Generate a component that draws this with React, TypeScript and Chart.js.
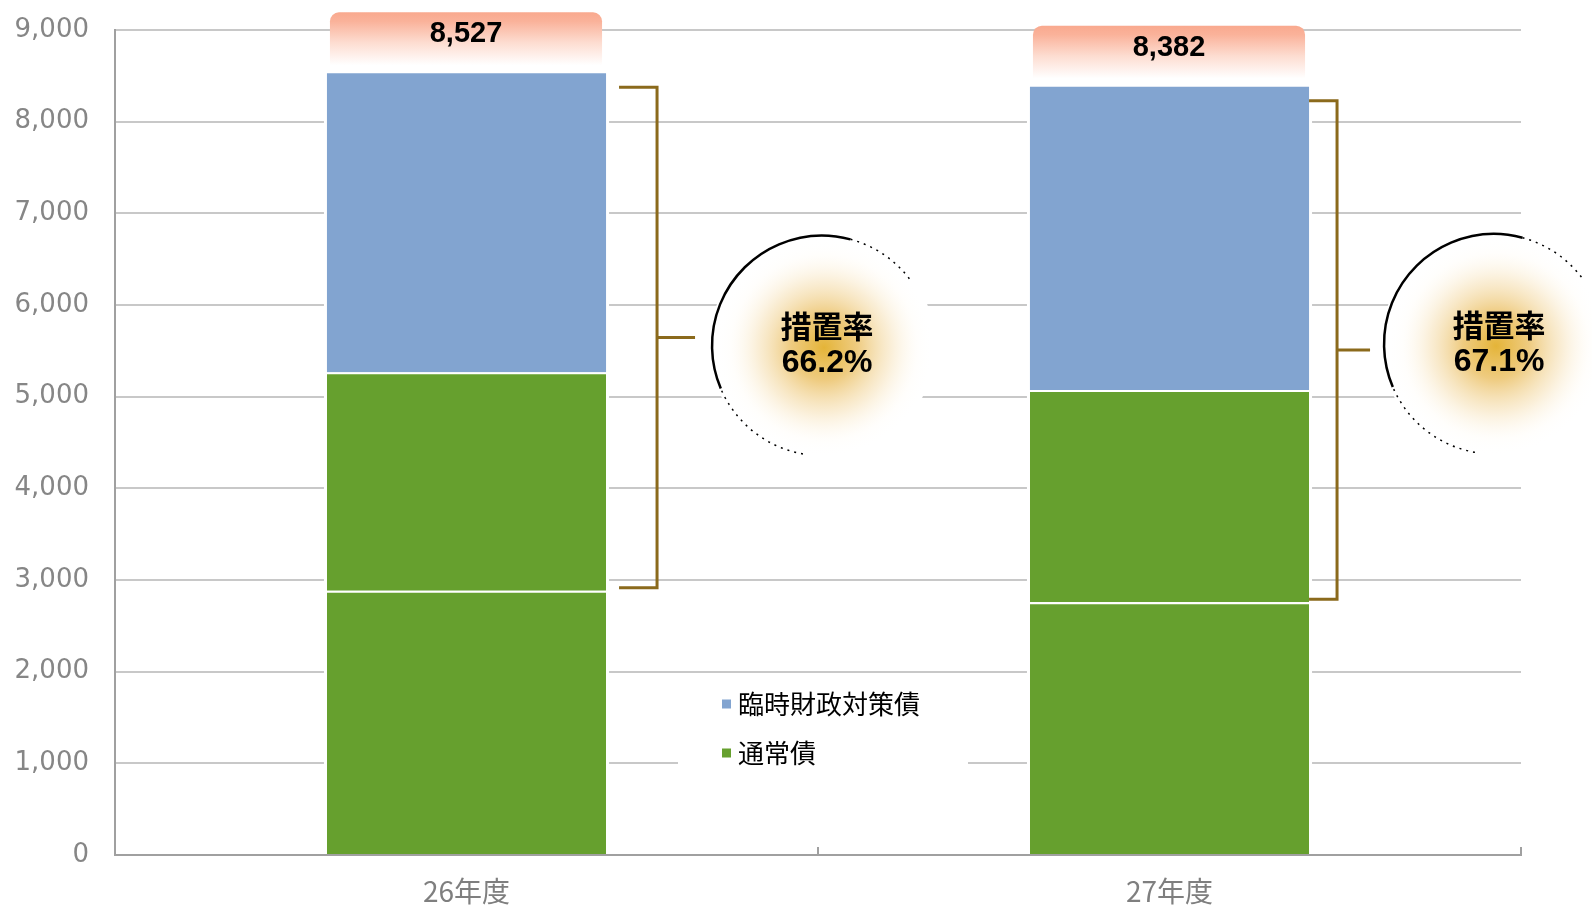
import React, { useEffect, useRef } from 'react';
import { Chart, registerables } from 'chart.js';

Chart.register(...registerables);

// ---- data ----
const categories = ['26年度', '27年度'];
const futsuBase = [2882, 2757]; // 通常債（下段）
const futsuSochi = [2384, 2315]; // 通常債（上段）
const rinji = [3261, 3310]; // 臨時財政対策債
const totals = [8527, 8382];
const sochiRates = ['66.2%', '67.1%'];
const legendItems = ['臨時財政対策債', '通常債'];
const yMin = 0;
const yMax = 9000;
const yStep = 1000;

// ---- styles ----
const BLUE = '#82A4D0';
const GREEN = '#66A02E';
const BRACKET = '#8B6A1C';
const GRID = '#C8C8C8';
const AXIS = '#A0A0A0';

// annotation layout per category (pixel offsets relative to the bars)
const annotLayout = [
  { start: 13, vx: 51, tick: 38, circleDx: 165, circleDy: 8 },
  { start: 0, vx: 28, tick: 33, circleDx: 157, circleDy: -6 },
];

const deg = (d: number) => (d * Math.PI) / 180;

function drawCallout(ctx: CanvasRenderingContext2D, cx: number, cy: number, r: number, rate: string) {
  ctx.save();
  ctx.beginPath();
  ctx.arc(cx, cy, r + 3, 0, Math.PI * 2);
  ctx.fillStyle = '#fff';
  ctx.fill();
  const g = ctx.createRadialGradient(cx + 2, cy + 2, 0, cx + 2, cy + 2, r);
  g.addColorStop(0, 'rgba(228,180,56,1)');
  g.addColorStop(0.3, 'rgba(236,196,110,0.88)');
  g.addColorStop(0.6, 'rgba(246,224,180,0.55)');
  g.addColorStop(0.85, 'rgba(255,250,240,0.2)');
  g.addColorStop(1, 'rgba(255,255,255,0)');
  ctx.beginPath();
  ctx.arc(cx, cy, r, 0, Math.PI * 2);
  ctx.fillStyle = g;
  ctx.fill();
  // black edge
  ctx.strokeStyle = '#000';
  ctx.lineWidth = 2.5;
  ctx.beginPath();
  ctx.arc(cx, cy, r, deg(157), deg(285), false);
  ctx.stroke();
  ctx.lineWidth = 1.5;
  ctx.setLineDash([2, 5]);
  ctx.beginPath();
  ctx.arc(cx, cy, r, deg(100), deg(157), false);
  ctx.stroke();
  ctx.beginPath();
  ctx.arc(cx, cy, r, deg(285), deg(325), false);
  ctx.stroke();
  ctx.setLineDash([]);
  // text
  ctx.fillStyle = '#000';
  ctx.textAlign = 'center';
  ctx.textBaseline = 'middle';
  ctx.font = "bold 31px 'Noto Sans CJK JP', sans-serif";
  ctx.fillText('措置率', cx + 5, cy - 19);
  ctx.font = "bold 32px 'Liberation Sans', Arial, sans-serif";
  ctx.fillText(rate, cx + 5, cy + 18);
  ctx.restore();
}

const annotPlugin = {
  id: 'annot',
  beforeDatasetsDraw(chart: any) {
    const ctx: CanvasRenderingContext2D = chart.ctx;
    const area = chart.chartArea;
    const topMeta = chart.getDatasetMeta(2);
    ctx.save();
    ctx.fillStyle = '#fff';
    topMeta.data.forEach((bar: any) => {
      ctx.fillRect(bar.x - bar.width / 2 - 3, bar.y, bar.width + 6, area.bottom - bar.y - 1);
    });
    // legend background
    ctx.fillRect(area.left + 563, area.bottom - 177, 290, 110);
    ctx.restore();
  },
  afterDatasetsDraw(chart: any) {
    const ctx: CanvasRenderingContext2D = chart.ctx;
    const area = chart.chartArea;
    const m0 = chart.getDatasetMeta(0);
    const m2 = chart.getDatasetMeta(2);
    ctx.save();
    // x axis line & inward ticks
    ctx.strokeStyle = AXIS;
    ctx.lineWidth = 2;
    ctx.beginPath();
    ctx.moveTo(area.left, area.bottom);
    ctx.lineTo(area.right, area.bottom);
    const mid = (area.left + area.right) / 2;
    ctx.moveTo(mid, area.bottom);
    ctx.lineTo(mid, area.bottom - 8);
    ctx.moveTo(area.right, area.bottom);
    ctx.lineTo(area.right, area.bottom - 8);
    ctx.stroke();

    m2.data.forEach((bar: any, i: number) => {
      const left = bar.x - bar.width / 2;
      const right = bar.x + bar.width / 2;
      const top = bar.y;
      // total label box
      const bx = left + 3;
      const bw = right - 4 - bx;
      const by = top - 61;
      const bh = 60;
      const g = ctx.createLinearGradient(0, by, 0, by + bh);
      g.addColorStop(0, '#F9A98E');
      g.addColorStop(0.15, '#FAB29A');
      g.addColorStop(0.5, '#FDDCD0');
      g.addColorStop(0.88, '#FFFFFF');
      g.addColorStop(1, '#FFFFFF');
      ctx.fillStyle = g;
      ctx.beginPath();
      (ctx as any).roundRect(bx, by, bw, bh, [9, 9, 0, 0]);
      ctx.fill();
      ctx.fillStyle = '#000';
      ctx.font = "bold 29px 'Liberation Sans', Arial, sans-serif";
      ctx.textAlign = 'center';
      ctx.textBaseline = 'middle';
      ctx.fillText(totals[i].toLocaleString('en-US'), bx + bw / 2, by + 22);

      // bracket
      const L = annotLayout[i];
      const splitY = m0.data[i].y;
      const bTop = top + 14;
      const bBot = splitY - 3;
      const vx = right + L.vx;
      const bMid = (bTop + bBot) / 2;
      ctx.strokeStyle = BRACKET;
      ctx.lineWidth = 3;
      ctx.lineCap = 'butt';
      ctx.lineJoin = 'miter';
      ctx.beginPath();
      ctx.moveTo(right + L.start, bTop);
      ctx.lineTo(vx, bTop);
      ctx.lineTo(vx, bBot);
      ctx.lineTo(right + L.start, bBot);
      ctx.moveTo(vx, bMid);
      ctx.lineTo(vx + L.tick, bMid);
      ctx.stroke();

      drawCallout(ctx, vx + L.circleDx, bMid + L.circleDy, 110, sochiRates[i]);
    });

    // legend
    const colors = [BLUE, GREEN];
    const lx = area.left + 607;
    const rows = [area.bottom - 151, area.bottom - 102];
    legendItems.forEach((t, i) => {
      ctx.fillStyle = colors[i];
      ctx.fillRect(lx, rows[i] - 4.5, 9, 9);
      ctx.fillStyle = '#000';
      ctx.font = "26px 'Noto Sans CJK JP', sans-serif";
      ctx.textAlign = 'left';
      ctx.textBaseline = 'middle';
      ctx.fillText(t, lx + 16, rows[i]);
    });
    ctx.restore();
  },
};

export default function App() {
  const ref = useRef<HTMLCanvasElement>(null);
  useEffect(() => {
    document.body.style.margin = '0';
    document.body.style.overflow = 'hidden';
    const canvas = ref.current!;
    const segBorder = { top: 2, right: 0, bottom: 0, left: 0 };
    const chart = new Chart(canvas, {
      type: 'bar',
      data: {
        labels: categories,
        datasets: [
          { label: '通常債', data: futsuBase, backgroundColor: GREEN, borderColor: '#fff', borderWidth: segBorder, borderSkipped: false },
          { label: '通常債', data: futsuSochi, backgroundColor: GREEN, borderColor: '#fff', borderWidth: segBorder, borderSkipped: false },
          { label: '臨時財政対策債', data: rinji, backgroundColor: BLUE, borderWidth: 0 },
        ],
      },
      options: {
        responsive: false,
        animation: false,
        devicePixelRatio: 1,
        layout: { padding: { top: 30, right: 71, left: 0, bottom: 0 } },
        datasets: { bar: { barPercentage: 1, categoryPercentage: 0.397 } },
        plugins: { legend: { display: false }, tooltip: { enabled: false } },
        scales: {
          x: {
            stacked: true,
            grid: { display: false, drawTicks: false },
            border: { color: AXIS, width: 2 },
            ticks: { color: '#7F7F7F', font: { family: "'Noto Sans CJK JP', sans-serif", size: 28 }, padding: 20 },
            afterFit: (s: any) => { s.height = 51; },
          },
          y: {
            stacked: true,
            min: yMin,
            max: yMax,
            ticks: {
              stepSize: yStep,
              color: '#868686',
              font: { family: "'DejaVu Sans', sans-serif", size: 26 },
              padding: 26,
              callback: (v: any) => Number(v).toLocaleString('en-US'),
            },
            grid: { color: GRID, lineWidth: 2, drawTicks: false },
            border: { color: AXIS, width: 2 },
            afterFit: (s: any) => { s.width = 115; s.paddingTop = 0; s.paddingBottom = 0; },
          },
        },
      } as any,
      plugins: [annotPlugin],
    });
    return () => chart.destroy();
  }, []);
  return (
    <div style={{ width: 1592, height: 906 }}>
      <canvas ref={ref} width={1592} height={906} style={{ display: 'block' }} />
    </div>
  );
}
